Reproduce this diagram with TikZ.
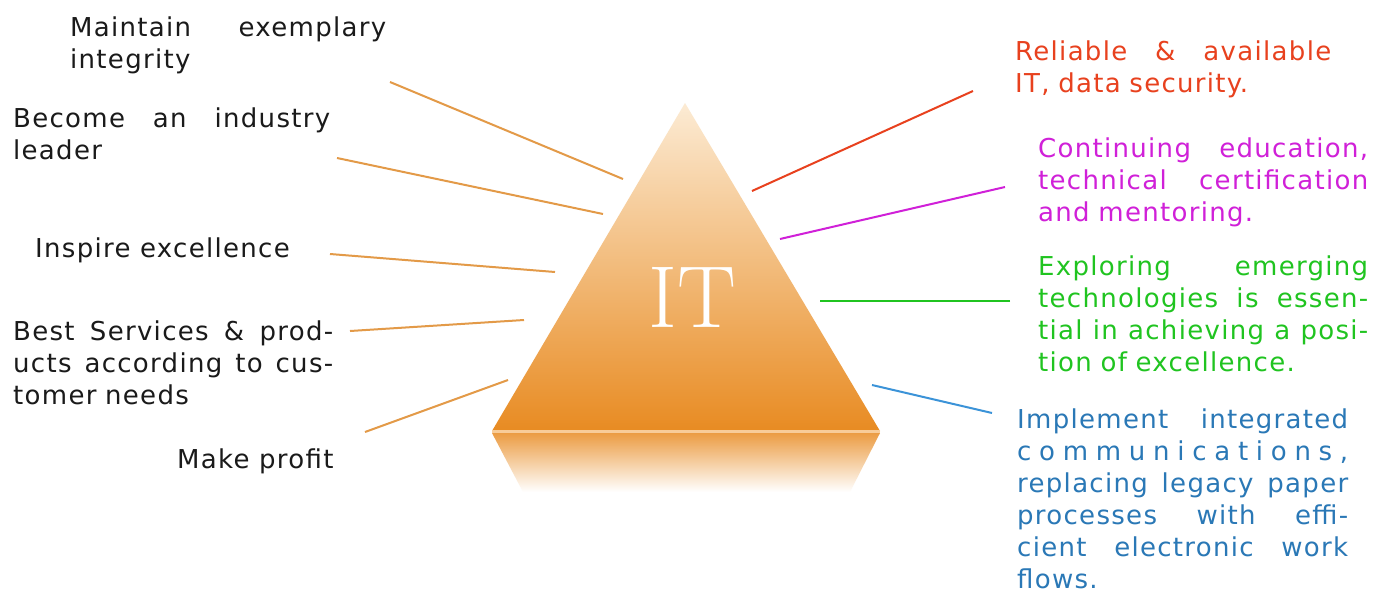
\documentclass[tikz,border=0pt]{standalone}
\usepackage{fontspec}
\newfontfamily\goalfont{DejaVu Sans}[LetterSpace=5]
\usepackage{xcolor}
\definecolor{ink}{HTML}{1A1A1A}
\definecolor{rayorange}{HTML}{E39A48}
\definecolor{tipcol}{HTML}{FCEBD4}
\definecolor{midcol}{HTML}{F0B56E}
\definecolor{basecol}{HTML}{E88B22}
\definecolor{basehi}{HTML}{F8CC98}
\definecolor{reliable}{HTML}{E8411E}
\definecolor{learn}{HTML}{D020D8}
\definecolor{explore}{HTML}{20C420}
\definecolor{implement}{HTML}{2A78B6}
\definecolor{rayblue}{HTML}{3B93D8}
\usepackage{tikz}
\usetikzlibrary{positioning}

\begin{document}
\begin{tikzpicture}[x=1pt, y=-1pt,
  goal/.style={anchor=base west, inner sep=0pt, align=left, text=ink, font=\goalfont\fontsize{26}{32}\selectfont},
  ray/.style={line width=2pt, rayorange},
]
\fill[white] (0,0) rectangle (1384,595);
\useasboundingbox (0,0) rectangle (1384,595);

% pyramid and its reflection
\coordinate (apex) at (685,103);
\coordinate (bl) at (492,431);
\coordinate (br) at (880,431);
\shade[top color=tipcol, middle color=midcol, bottom color=basecol] (apex) -- (br) -- (bl) -- cycle;
\draw[line width=3pt, basehi] (bl) -- (br);
\shade[top color=basecol!85!white, bottom color=white] (492,433) -- (880,433) -- (850,492) -- (523,492) -- cycle;
\node[font=\fontsize{88}{88}\selectfont, text=white] (it) at (692,297) {IT};

% left goals
\node[goal, text width=316pt] (integrity) at (70,36) {Maintain\hfill exemplary\\integrity};
\node[goal, text width=317pt] (leader) at (13,127) {Become\hfill an\hfill industry\\leader};
\node[goal] (inspire) at (35,257) {Inspire excellence};
\node[goal, text width=320pt] (services) at (13,340) {Best\hfill Services\hfill \&\hfill prod-\\ucts\hfill according\hfill to\hfill cus-\\tomer needs};
\node[goal] (profit) at (177,468) {Make profit};

% right goals
\node[goal, text=reliable, text width=316pt] (secure) at (1015,60) {Reliable\hfill \&\hfill available\\IT, data security.};
\node[goal, text=learn, text width=330pt] (educate) at (1038,157) {Continuing\hfill education,\\technical\hfill certification\\and mentoring.};
\node[goal, text=explore, text width=330pt] (emerge) at (1038,275) {Exploring\hfill emerging\\technologies\hfill is\hfill essen-\\tial\hfill in\hfill achieving\hfill a\hfill posi-\\tion of excellence.};
\node[goal, text=implement, text width=331pt] (integrate) at (1017,428) {Implement\hfill integrated\\c\hfill o\hfill m\hfill m\hfill u\hfill n\hfill i\hfill c\hfill a\hfill t\hfill i\hfill o\hfill n\hfill s\hfill ,\\replacing\hfill legacy\hfill paper\\processes\hfill with\hfill effi-\\cient\hfill electronic\hfill work\\flows.};

% ray ends
\coordinate (integrity-end) at (390,82);
\coordinate (integrity-tip) at (623,179);
\coordinate (leader-end) at (337,158);
\coordinate (leader-tip) at (603,214);
\coordinate (inspire-end) at (330,254);
\coordinate (inspire-tip) at (555,272);
\coordinate (services-end) at (350,331);
\coordinate (services-tip) at (524,320);
\coordinate (profit-end) at (365,432);
\coordinate (profit-tip) at (508,380);
\coordinate (secure-end) at (973,91);
\coordinate (secure-tip) at (752,191);
\coordinate (educate-end) at (1005,187);
\coordinate (educate-tip) at (780,239);
\coordinate (emerge-end) at (1010,301);
\coordinate (emerge-tip) at (820,301);
\coordinate (integrate-end) at (992,413);
\coordinate (integrate-tip) at (872,385);

\draw[ray] (integrity-end) -- (integrity-tip);
\draw[ray] (leader-end) -- (leader-tip);
\draw[ray] (inspire-end) -- (inspire-tip);
\draw[ray] (services-end) -- (services-tip);
\draw[ray] (profit-end) -- (profit-tip);
\draw[ray, reliable] (secure-end) -- (secure-tip);
\draw[ray, learn] (educate-end) -- (educate-tip);
\draw[ray, explore] (emerge-end) -- (emerge-tip);
\draw[ray, rayblue] (integrate-end) -- (integrate-tip);

\end{tikzpicture}
\end{document}
